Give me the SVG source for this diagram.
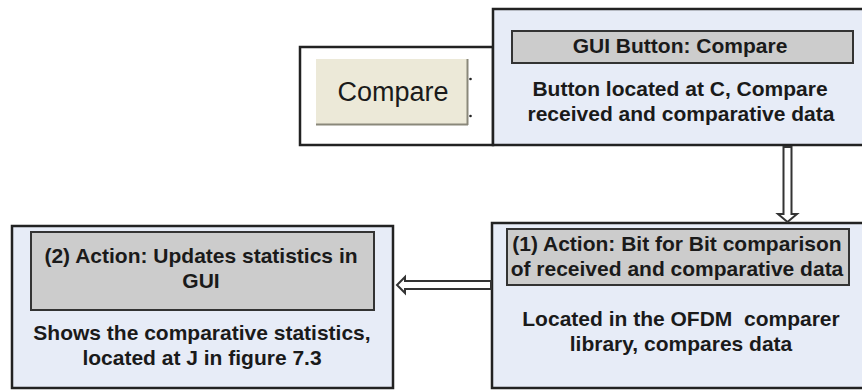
<svg xmlns="http://www.w3.org/2000/svg" width="862" height="390" viewBox="0 0 862 390">
  <style>
    .box { fill: #e7ecf7; stroke: #222; stroke-width: 2.5; }
    .frame { fill: #ffffff; stroke: #222; stroke-width: 2.5; }
    .hdr { fill: #cccccc; stroke: #333; stroke-width: 2; }
    .t { font-family: "Liberation Sans", Arial, sans-serif; font-weight: bold; font-size: 21px; fill: #1a1a1a; text-anchor: middle; white-space: pre; }
    .btn { font-family: "Liberation Sans", Arial, sans-serif; font-size: 27px; fill: #1a1a1a; text-anchor: middle; }
    .arrow { fill: #ffffff; stroke: #333; stroke-width: 2; stroke-linejoin: miter; }
  </style>
  <rect x="0" y="0" width="862" height="390" fill="#ffffff"/>

  <g id="button-frame">
    <rect class="frame" x="300" y="47" width="193" height="98"/>
    <rect x="316" y="59" width="151" height="65" fill="#ece9d8"/>
    <line x1="316" y1="124.5" x2="468" y2="124.5" stroke="#8a887a" stroke-width="2"/>
    <line x1="467.5" y1="59" x2="467.5" y2="125" stroke="#8a887a" stroke-width="2"/>
    <circle cx="470.5" cy="79" r="1.3" fill="#222"/>
    <circle cx="470.5" cy="116" r="1.3" fill="#222"/>
    <text class="btn" x="393" y="101">Compare</text>
  </g>

  <g id="gui-button-node">
    <rect class="box" x="493" y="9" width="375" height="136"/>
    <rect class="hdr" x="512" y="31" width="341" height="32"/>
    <text class="t" x="680" y="53">GUI Button: Compare</text>
    <text class="t" x="680" y="96">Button located at C, Compare</text>
    <text class="t" x="681" y="121">received and comparative data</text>
  </g>

  <g id="action1-node">
    <rect class="box" x="492" y="223" width="376" height="165"/>
    <rect class="hdr" x="507" y="229" width="342" height="56"/>
    <text class="t" x="677" y="251">(1) Action: Bit for Bit comparison</text>
    <text class="t" x="677" y="276">of received and comparative data</text>
    <text class="t" x="681" y="326" xml:space="preserve">Located in the OFDM  comparer</text>
    <text class="t" x="681" y="351">library, compares data</text>
  </g>

  <g id="action2-node">
    <rect class="box" x="12" y="226" width="381" height="162"/>
    <rect class="hdr" x="31" y="232" width="343" height="78"/>
    <text class="t" x="201" y="263">(2) Action: Updates statistics in</text>
    <text class="t" x="201" y="288">GUI</text>
    <text class="t" x="202" y="340">Shows the comparative statistics,</text>
    <text class="t" x="202" y="365">located at J in figure 7.3</text>
  </g>

  <g id="connectors">
    <polygon class="arrow" points="783.5,147 791.5,147 791.5,214 797,214 787.5,222 778,214 783.5,214"/>
    <polygon class="arrow" points="491,281 405,281 405,277 397,285 405,293 405,289 491,289"/>
  </g>
</svg>
